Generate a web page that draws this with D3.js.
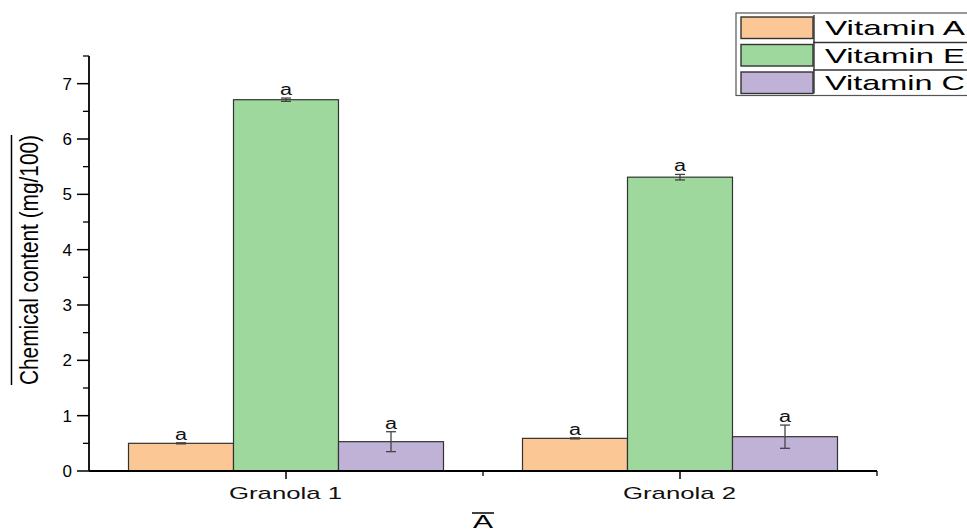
<!DOCTYPE html>
<html>
<head>
<meta charset="utf-8">
<script src="https://cdn.jsdelivr.net/npm/d3@7"></script>
<style>
  html, body { margin: 0; padding: 0; background: #fff; }
  svg { display: block; }
</style>
</head>
<body>
<svg id="chart" width="967" height="532"></svg>
<script>
// Samples and vitamin series
const categories = ["Granola 1", "Granola 2"];
const seriesNames = ["Vitamin A", "Vitamin E", "Vitamin C"];
const vitaminA = [0.50, 0.59];
const vitaminE = [6.71, 5.31];
const vitaminC = [0.53, 0.62];
const errA = [0.01, 0.01];
const errE = [0.03, 0.05];
const errC = [0.18, 0.21];
const letters = [["a", "a"], ["a", "a"], ["a", "a"]];
const yTicks = [0, 1, 2, 3, 4, 5, 6, 7];
const colors = ["#FBC794", "#9ED89D", "#C0B1D6"];

const values = [vitaminA, vitaminE, vitaminC];
const errors = [errA, errE, errC];

const svg = d3.select("#chart");
const font = "'Liberation Sans', Arial, sans-serif";

const plotLeft = 89, plotRight = 877, plotTop = 56, plotBottom = 471;

// Categories sit at 1 and 2 on a continuous axis spanning 0.5–2.5
const x = d3.scaleLinear().domain([0.5, 2.5]).range([plotLeft, plotRight]);
const y = d3.scaleLinear().domain([0, 7.5]).range([plotBottom, plotTop]);
const groupW = 315;
const sub = d3.scaleBand().domain(seriesNames).range([-groupW / 2, groupW / 2]).padding(0);

// Horizontally widened text, as in the exported figure
function wideText(sel, str, size, width) {
  return sel.append("text")
    .attr("font-family", font).attr("font-size", size)
    .attr("textLength", width).attr("lengthAdjust", "spacingAndGlyphs")
    .text(str);
}

// Bars
seriesNames.forEach((name, si) => {
  const g = svg.append("g");
  categories.forEach((cat, ci) => {
    const cx = x(ci + 1);
    const v = values[si][ci];
    g.append("rect")
      .attr("x", cx + sub(name))
      .attr("y", y(v))
      .attr("width", sub.bandwidth())
      .attr("height", y(0) - y(v))
      .attr("fill", colors[si])
      .attr("stroke", "#333")
      .attr("stroke-width", 1.2);
  });
});

// Error bars and significance letters
seriesNames.forEach((name, si) => {
  categories.forEach((cat, ci) => {
    const cx = x(ci + 1) + sub(name) + sub.bandwidth() / 2;
    const v = values[si][ci], e = errors[si][ci];
    const yt = y(v + e), yb = y(v - e);
    const eb = svg.append("g").attr("stroke", "#444").attr("stroke-width", 1.3);
    eb.append("line").attr("x1", cx).attr("x2", cx).attr("y1", yt).attr("y2", yb);
    eb.append("line").attr("x1", cx - 5).attr("x2", cx + 5).attr("y1", yt).attr("y2", yt);
    eb.append("line").attr("x1", cx - 5).attr("x2", cx + 5).attr("y1", yb).attr("y2", yb);
    wideText(svg, letters[si][ci], 16, 12)
      .attr("x", cx - 6).attr("y", yt - 3)
      .attr("fill", "#111");
  });
});

// Y axis
const yAxis = svg.append("g");
yAxis.append("line").attr("x1", plotLeft).attr("x2", plotLeft).attr("y1", plotTop).attr("y2", plotBottom)
  .attr("stroke", "#000").attr("stroke-width", 1.8);
yTicks.forEach(t => {
  yAxis.append("line").attr("x1", plotLeft - 12).attr("x2", plotLeft).attr("y1", y(t)).attr("y2", y(t))
    .attr("stroke", "#000").attr("stroke-width", 1.5);
  yAxis.append("text").attr("x", plotLeft - 17).attr("y", y(t) + 6)
    .attr("text-anchor", "end").attr("font-family", font).attr("font-size", 17)
    .attr("fill", "#000").text(t);
});
d3.range(0.5, 7.6, 1).forEach(t => {
  yAxis.append("line").attr("x1", plotLeft - 6).attr("x2", plotLeft).attr("y1", y(t)).attr("y2", y(t))
    .attr("stroke", "#000").attr("stroke-width", 1.3);
});

// X axis
const xAxis = svg.append("g");
xAxis.append("line").attr("x1", plotLeft).attr("x2", plotRight).attr("y1", plotBottom).attr("y2", plotBottom)
  .attr("stroke", "#000").attr("stroke-width", 1.8);
categories.forEach((cat, ci) => {
  const cx = x(ci + 1);
  xAxis.append("line").attr("x1", cx).attr("x2", cx).attr("y1", plotBottom).attr("y2", plotBottom + 8)
    .attr("stroke", "#000").attr("stroke-width", 1.5);
  wideText(xAxis, cat, 17, 113)
    .attr("x", cx - 57).attr("y", plotBottom + 28)
    .attr("fill", "#111");
});
[1.5, 2.5].forEach(t => {
  xAxis.append("line").attr("x1", x(t)).attr("x2", x(t)).attr("y1", plotBottom).attr("y2", plotBottom + 5)
    .attr("stroke", "#000").attr("stroke-width", 1.3);
});

// Axis titles (with overline)
svg.append("text")
  .attr("transform", "translate(38,260) rotate(-90)")
  .attr("text-anchor", "middle")
  .attr("font-family", "'Liberation Sans Narrow', 'Arial Narrow', " + font)
  .attr("font-size", 26)
  .attr("textLength", 250).attr("lengthAdjust", "spacingAndGlyphs")
  .attr("fill", "#000")
  .text("Chemical content (mg/100)");
svg.append("line").attr("x1", 11.5).attr("x2", 11.5).attr("y1", 135).attr("y2", 385)
  .attr("stroke", "#000").attr("stroke-width", 1.5);

wideText(svg, "A", 19, 20)
  .attr("x", 473).attr("y", 528)
  .attr("fill", "#000");
svg.append("line").attr("x1", 472).attr("x2", 494).attr("y1", 513).attr("y2", 513)
  .attr("stroke", "#000").attr("stroke-width", 1.5);

// Legend
const legend = svg.append("g");
const lx = 736, ly = 13, rowH = 27.5;
legend.append("rect").attr("x", lx).attr("y", ly).attr("width", 240).attr("height", rowH * 3)
  .attr("fill", "#fff").attr("stroke", "#555").attr("stroke-width", 1.2);
seriesNames.forEach((name, i) => {
  const ry = ly + i * rowH;
  legend.append("rect").attr("x", 741).attr("y", ry + 4).attr("width", 72).attr("height", rowH - 6)
    .attr("fill", colors[i]).attr("stroke", "#333").attr("stroke-width", 1.4);
  wideText(legend, name, 21, 140)
    .attr("x", 825).attr("y", ry + 22)
    .attr("fill", "#000");
  if (i > 0) {
    legend.append("line").attr("x1", 813).attr("x2", 967).attr("y1", ry + 2).attr("y2", ry + 2)
      .attr("stroke", "#333").attr("stroke-width", 1.6);
  }
});
legend.append("line").attr("x1", 814).attr("x2", 814).attr("y1", ly + 2).attr("y2", ly + rowH * 3 - 2)
  .attr("stroke", "#333").attr("stroke-width", 1.4);
</script>
</body>
</html>
